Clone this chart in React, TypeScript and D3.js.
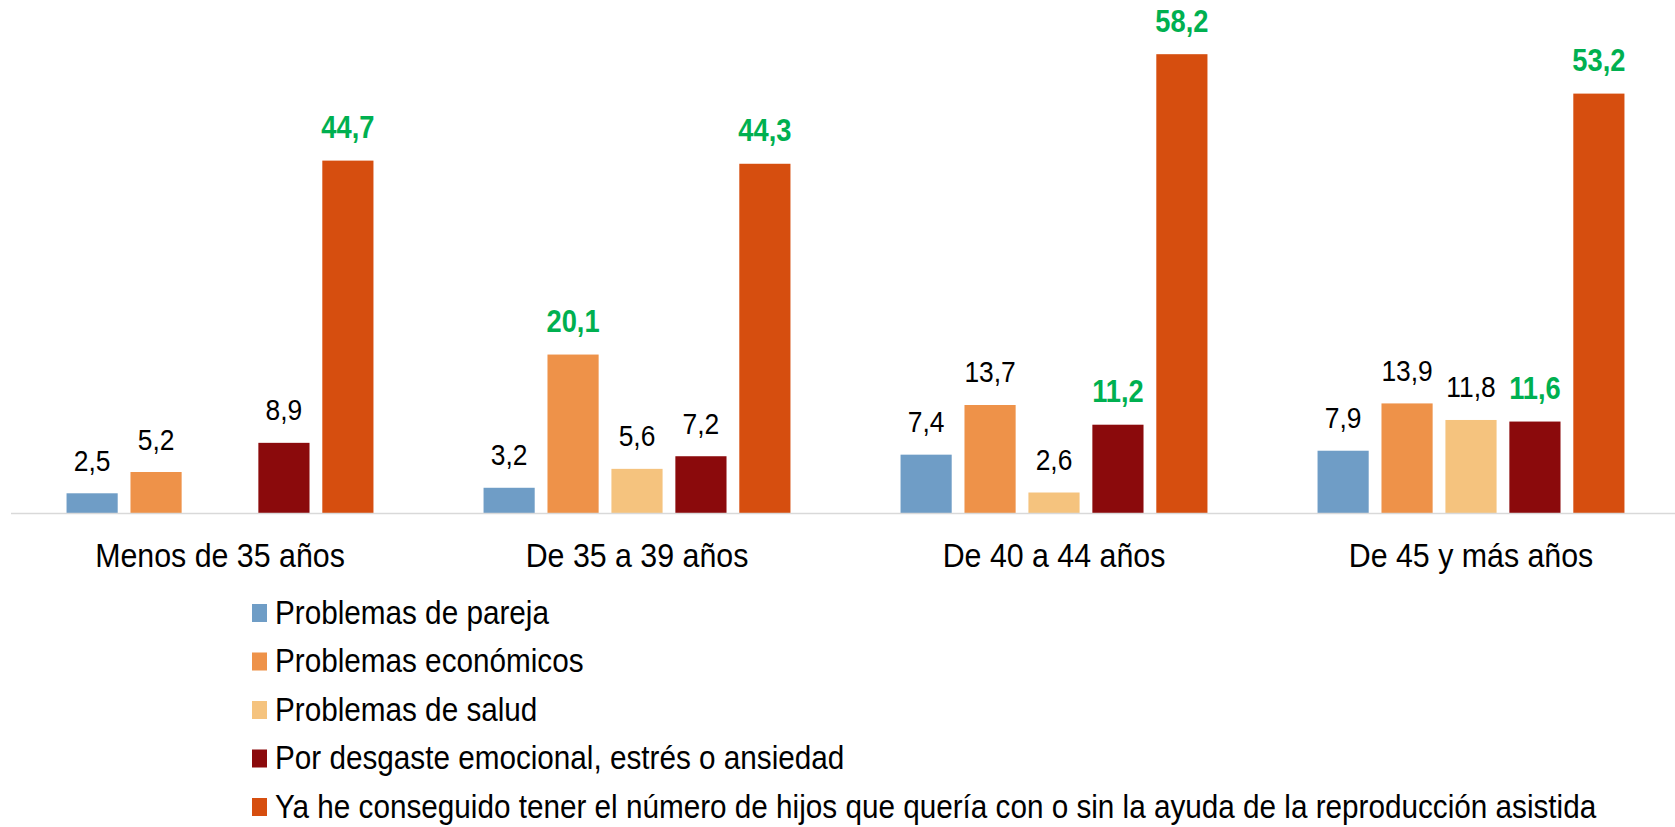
import React, { useEffect, useRef } from "react";
import * as d3 from "d3";

const categories = ["Menos de 35 años", "De 35 a 39 años", "De 40 a 44 años", "De 45 y más años"];
const seriesNames = [
  "Problemas de pareja",
  "Problemas económicos",
  "Problemas de salud",
  "Por desgaste emocional, estrés o ansiedad",
  "Ya he conseguido tener el número de hijos que quería con o sin la ayuda de la reproducción asistida",
];
const pareja = [2.5, 3.2, 7.4, 7.9];
const economicos = [5.2, 20.1, 13.7, 13.9];
const salud = [null, 5.6, 2.6, 11.8];
const desgaste = [8.9, 7.2, 11.2, 11.6];
const hijos = [44.7, 44.3, 58.2, 53.2];
// which labels are highlighted in green, per series
const highlight = [
  [false, false, false, false],
  [false, true, false, false],
  [false, false, false, false],
  [false, false, true, true],
  [true, true, true, true],
];
const colors = ["#6f9dc6", "#ee9249", "#f5c37e", "#8b0a0c", "#d64e0f"];

const FONT = "'Liberation Sans', Arial, sans-serif";
// the original text is a condensed Arial, squeeze it horizontally
const SX_VAL = 0.88;
const SX_CAT = 0.92;
const SX_LEG = 0.9;

const App = () => {
  const ref = useRef<SVGSVGElement>(null);

  useEffect(() => {
    const values = [pareja, economicos, salud, desgaste, hijos];
    const svg = d3.select(ref.current);
    svg.selectAll("*").remove();

    const x0 = d3.scaleBand().domain(categories).range([11.5, 1679.5]).paddingInner(0.264).paddingOuter(0.132);
    const x1 = d3.scaleBand().domain(seriesNames).range([0, x0.bandwidth()]).paddingInner(0.2);
    const y = d3.scaleLinear().domain([0, 60]).range([513, 40]);

    const groups = svg
      .append("g")
      .selectAll("g")
      .data(categories)
      .join("g")
      .attr("transform", (d) => `translate(${x0(d)},0)`);

    groups.each(function (cat, ci) {
      const g = d3.select(this);
      seriesNames.forEach((s, si) => {
        const v = values[si][ci];
        if (v == null) return;
        g.append("rect")
          .attr("x", x1(s)!)
          .attr("y", y(v))
          .attr("width", x1.bandwidth())
          .attr("height", y(0) - y(v))
          .attr("fill", colors[si]);
        const hl = highlight[si][ci];
        g.append("text")
          .attr("transform", `translate(${x1(s)! + x1.bandwidth() / 2},${y(v) - 22.5}) scale(${SX_VAL},1)`)
          .attr("text-anchor", "middle")
          .style("font-family", FONT)
          .style("font-size", hl ? "31px" : "30px")
          .style("font-weight", hl ? "bold" : "normal")
          .attr("fill", hl ? "#00b050" : "#000")
          .text(d3.format(".1f")(v).replace(".", ","));
      });
    });

    // baseline
    svg
      .append("line")
      .attr("x1", 11)
      .attr("x2", 1675)
      .attr("y1", y(0) + 0.5)
      .attr("y2", y(0) + 0.5)
      .attr("stroke", "#d9d9d9")
      .attr("stroke-width", 1.5);

    // category labels
    svg
      .append("g")
      .selectAll("text")
      .data(categories)
      .join("text")
      .attr("transform", (d) => `translate(${x0(d)! + x0.bandwidth() / 2},567) scale(${SX_CAT},1)`)
      .attr("text-anchor", "middle")
      .style("font-family", FONT)
      .style("font-size", "33px")
      .attr("fill", "#000")
      .text((d) => d);

    // legend
    const legend = svg
      .append("g")
      .selectAll("g")
      .data(seriesNames)
      .join("g")
      .attr("transform", (d, i) => `translate(252,${613 + i * 48.5})`);
    legend
      .append("rect")
      .attr("x", 0)
      .attr("y", -9)
      .attr("width", 15)
      .attr("height", 18)
      .attr("fill", (d, i) => colors[i]);
    legend
      .append("text")
      .attr("transform", `translate(23,10.5) scale(${SX_LEG},1)`)
      .style("font-family", FONT)
      .style("font-size", "33px")
      .attr("fill", "#000")
      .text((d) => d);
  });

  return (
    <div>
      <svg ref={ref} width={1675} height={827} style={{ position: "absolute", left: 0, top: 0, background: "#fff" }}></svg>
    </div>
  );
};

export default App;
